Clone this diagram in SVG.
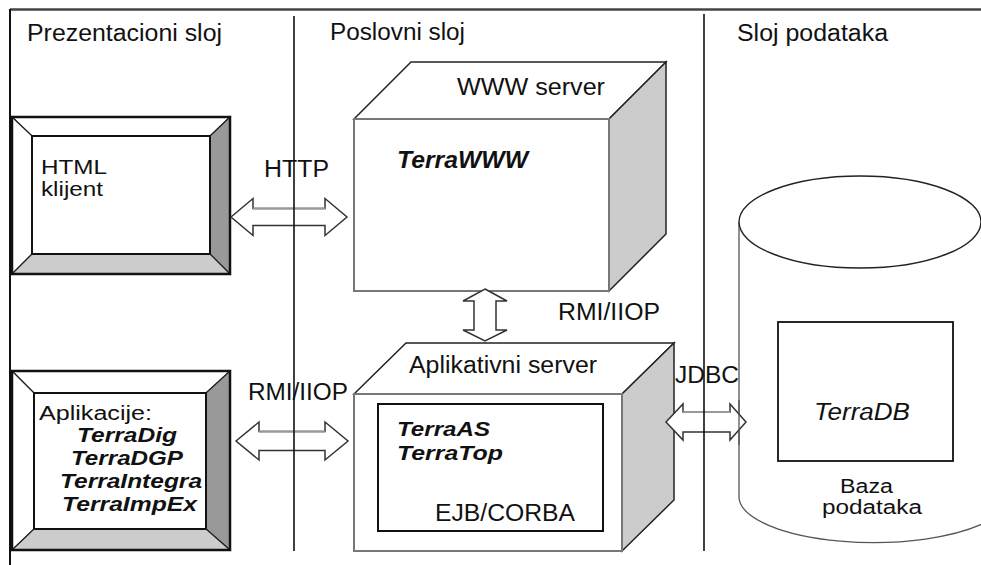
<svg xmlns="http://www.w3.org/2000/svg" width="981" height="565" viewBox="0 0 981 565">
<defs>
<style>
text{font-family:"Liberation Sans",Arial,sans-serif;font-size:23px;fill:#111}
.it{font-style:italic}
.bi{font-style:italic;font-weight:bold}
.sm{font-size:20px}
.md{font-size:21px}
.bev{stroke:#222;stroke-width:1.2;stroke-linejoin:miter}
.frame{fill:none;stroke:#111;stroke-width:2.5}
.inner{fill:none;stroke:#111;stroke-width:2}
.front{fill:#fff;stroke:#777;stroke-width:2}
.top{fill:#fff;stroke:#222;stroke-width:1.5;stroke-linejoin:miter}
.side{fill:#ccc;stroke:#222;stroke-width:1.5;stroke-linejoin:miter}
.arrow{fill:#fff;stroke:#333;stroke-width:1.5;stroke-linejoin:miter}
.div{stroke:#111;stroke-width:1.6}
</style>
</defs>
<rect width="981" height="565" fill="#fff"/>

<g id="frame">
<line x1="10" y1="9.5" x2="981" y2="9.5" stroke="#444" stroke-width="2.5"/>
<line x1="10" y1="9" x2="10" y2="565" stroke="#111" stroke-width="2"/>
<text x="27" y="41" textLength="195" lengthAdjust="spacingAndGlyphs">Prezentacioni sloj</text>
<text x="330" y="40" textLength="135" lengthAdjust="spacingAndGlyphs">Poslovni sloj</text>
<text x="737" y="41" textLength="151" lengthAdjust="spacingAndGlyphs">Sloj podataka</text>
</g>

<g id="html-klijent">
<polygon class="bev" fill="#fff" points="12,117 230,117 210,136 32,136"/>
<polygon class="bev" fill="#fff" points="12,117 32,136 32,254 12,274"/>
<polygon class="bev" fill="#999" points="230,117 230,274 210,254 210,136"/>
<polygon class="bev" fill="#ccc" points="12,274 32,254 210,254 230,274"/>
<rect class="inner" x="32" y="136" width="178" height="118"/>
<rect class="frame" x="12" y="117" width="218" height="157"/>
<text class="md" x="41" y="174" textLength="66" lengthAdjust="spacingAndGlyphs">HTML</text>
<text class="sm" x="41" y="196" textLength="62" lengthAdjust="spacingAndGlyphs">klijent</text>
</g>

<g id="aplikacije">
<polygon class="bev" fill="#fff" points="12,371 230,371 206,393 34,393"/>
<polygon class="bev" fill="#fff" points="12,371 34,393 34,529 12,550"/>
<polygon class="bev" fill="#999" points="230,371 230,550 206,529 206,393"/>
<polygon class="bev" fill="#ccc" points="12,550 34,529 206,529 230,550"/>
<rect class="inner" x="34" y="393" width="172" height="136"/>
<rect class="frame" x="12" y="371" width="218" height="179"/>
<text class="sm" x="39" y="420" textLength="113" lengthAdjust="spacingAndGlyphs">Aplikacije:</text>
<text class="bi sm" x="77" y="442" textLength="100" lengthAdjust="spacingAndGlyphs">TerraDig</text>
<text class="bi sm" x="71" y="465" textLength="112" lengthAdjust="spacingAndGlyphs">TerraDGP</text>
<text class="bi sm" x="60" y="488" textLength="142" lengthAdjust="spacingAndGlyphs">TerraIntegra</text>
<text class="bi sm" x="62" y="511" textLength="135" lengthAdjust="spacingAndGlyphs">TerraImpEx</text>
</g>

<g id="www-server">
<polygon class="top" points="354,119 411,62 666,62 609,119"/>
<polygon class="side" points="609,119 666,62 666,234 609,291"/>
<rect class="front" x="354" y="119" width="255" height="172"/>
<text x="457" y="95" textLength="148" lengthAdjust="spacingAndGlyphs">WWW server</text>
<text class="bi" x="397" y="168" textLength="131" lengthAdjust="spacingAndGlyphs">TerraWWW</text>
</g>

<g id="aplikativni-server">
<polygon class="top" points="354,394 406,343 674,343 622,394"/>
<polygon class="side" points="622,394 674,343 674,500 622,551"/>
<rect class="front" x="354" y="394" width="268" height="157"/>
<rect class="inner" x="378" y="404" width="225" height="127"/>
<text x="409" y="373" textLength="188" lengthAdjust="spacingAndGlyphs">Aplikativni server</text>
<text class="bi md" x="397" y="436" textLength="93" lengthAdjust="spacingAndGlyphs">TerraAS</text>
<text class="bi md" x="397" y="460" textLength="106" lengthAdjust="spacingAndGlyphs">TerraTop</text>
<text x="435" y="521" textLength="140" lengthAdjust="spacingAndGlyphs">EJB/CORBA</text>
</g>

<g id="baza-podataka">
<path d="M739,222 L739,498 A135,46 0 0 0 990,520 L990,222" fill="#fff" stroke="#555" stroke-width="1.3"/>
<ellipse cx="860" cy="222" rx="121" ry="46" fill="#fff" stroke="#222" stroke-width="1.4"/>
<rect x="778" y="322" width="175" height="139" fill="#fff" stroke="#111" stroke-width="1.8"/>
<text class="it" x="814" y="420" textLength="96" lengthAdjust="spacingAndGlyphs">TerraDB</text>
<text class="sm" x="840" y="493" textLength="53" lengthAdjust="spacingAndGlyphs">Baza</text>
<text class="sm" x="822" y="514" textLength="100" lengthAdjust="spacingAndGlyphs">podataka</text>
</g>

<g id="connectors">
<polygon class="arrow" points="231,217 253,198.5 253,208.5 325,208.5 325,198.5 347,217 325,235.5 325,225.5 253,225.5 253,235.5"/>
<line x1="253" y1="208.5" x2="325" y2="208.5" stroke="#999" stroke-width="2"/>
<polygon class="arrow" points="236,441 259,422 259,431.5 325,431.5 325,422 348,441 325,460 325,450.5 259,450.5 259,460"/>
<line x1="259" y1="431.5" x2="325" y2="431.5" stroke="#999" stroke-width="2"/>
<polygon class="arrow" points="666,422 683,404 683,412 730,412 730,404 746,422 730,440 730,432 683,432 683,440"/>
<line x1="683" y1="412" x2="730" y2="412" stroke="#999" stroke-width="2"/>
<polygon class="arrow" points="485,289 507,301 496,301 496,330 507,330 485,341 463,330 474,330 474,301 463,301"/>
<text x="264" y="177" textLength="65" lengthAdjust="spacingAndGlyphs">HTTP</text>
<text x="558" y="320" textLength="102" lengthAdjust="spacingAndGlyphs">RMI/IIOP</text>
<text x="248" y="400" textLength="100" lengthAdjust="spacingAndGlyphs">RMI/IIOP</text>
<text x="675" y="383" textLength="64" lengthAdjust="spacingAndGlyphs">JDBC</text>
</g>

<g id="dividers">
<line class="div" x1="294" y1="16" x2="294" y2="551"/>
<line class="div" x1="704" y1="14" x2="704" y2="551"/>
<line x1="739" y1="400" x2="739" y2="445" stroke="#555" stroke-width="1.3"/>
</g>
</svg>
